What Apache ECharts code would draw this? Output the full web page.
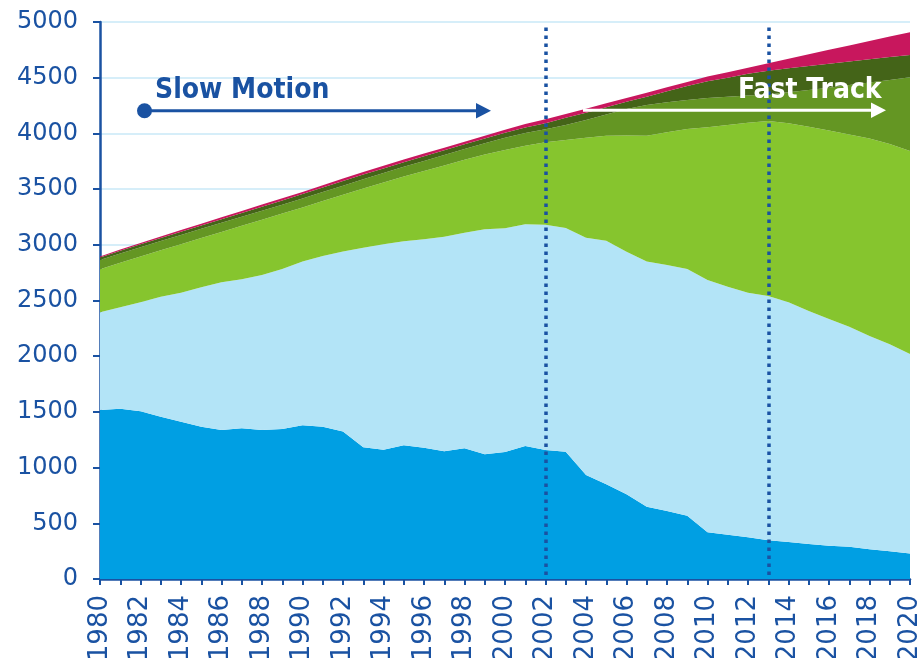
<!DOCTYPE html>
<html>
<head>
<meta charset="utf-8">
<script src="https://cdn.jsdelivr.net/npm/echarts@6/dist/echarts.min.js"></script>
<style>
html,body{margin:0;padding:0;background:#fff;}
#chart{width:920px;height:658px;}
</style>
</head>
<body>
<div id="chart"></div>
<script>
const years = [];
for (let y = 1980; y <= 2020; y++) years.push(String(y));

const seriesDarkBlue = [1517,1529,1505,1457,1412,1367,1338,1353,1338,1347,1380,1367,1323,1182,1161,1200,1179,1146,1173,1119,1140,1194,1158,1143,934,850,760,649,610,568,419,398,374,347,332,314,299,290,266,248,230];
const seriesLightBlue = [877,910,979,1077,1158,1251,1325,1337,1391,1436,1469,1533,1617,1792,1844,1831,1870,1927,1936,2020,2008,1990,2023,2008,2130,2187,2178,2200,2209,2215,2265,2226,2196,2193,2152,2092,2035,1975,1915,1859,1790];
const seriesLightGreen = [386,399,411,416,435,442,452,480,496,497,486,493,510,531,555,581,613,639,655,671,702,706,739,789,896,941,1044,1131,1191,1257,1371,1451,1525,1572,1606,1654,1691,1725,1774,1798,1822];
const seriesMidGreen = [84,84,84,84,84,83,82,81,80,80,80,80,81,83,85,88,91,94,96,102,110,113,117,135,160,192,238,275,270,260,263,255,245,238,280,330,385,445,503,575,662];
const seriesDarkGreen = [22,24,25,27,29,31,33,35,37,38,40,41,42,42,41,41,42,42,42,43,46,50,54,65,66,65,65,75,98,125,150,170,195,213,215,215,215,210,207,205,200];
const seriesCrimson = [10,11,12,13,14,16,17,18,19,20,20,21,22,23,24,24,24,24,24,25,27,32,36,35,36,35,33,36,36,37,42,50,55,66,85,105,125,145,165,184,204];

const yTicks = { min: 0, max: 5000, interval: 500 };
const markYears = ['2002', '2013'];

const blue = '#1a52a2';
const colors = ['#009fe3', '#b3e4f7', '#86c52e', '#649623', '#446418', '#c8175d'];
const allSeries = [seriesDarkBlue, seriesLightBlue, seriesLightGreen, seriesMidGreen, seriesDarkGreen, seriesCrimson];
const names = ['s1','s2','s3','s4','s5','s6'];

const chart = echarts.init(document.getElementById('chart'), null, { renderer: 'canvas' });

const series = allSeries.map((d, i) => ({
  name: names[i],
  type: 'line',
  stack: 'total',
  data: d,
  symbol: 'none',
  lineStyle: { width: 0 },
  areaStyle: { color: colors[i], opacity: 1 },
  itemStyle: { color: colors[i] },
  silent: true,
  z: 2
}));

series[0].markLine = {
  silent: true,
  symbol: ['none', 'none'],
  label: { show: false },
  lineStyle: { color: blue, width: 3.5, type: [3.5, 4.5] },
  data: markYears.map(y => [{ coord: [y, 4950] }, { coord: [y, 0] }]),
  z: 10
};

const font = 'DejaVu Sans';
const boldFont = 'DejaVu Sans Condensed';

chart.setOption({
  animation: false,
  backgroundColor: '#ffffff',
  grid: { left: 100, right: 10, top: 22, bottom: 79, containLabel: false, outerBoundsMode: 'none' },
  xAxis: {
    type: 'category',
    data: years,
    boundaryGap: false,
    axisLine: { lineStyle: { color: blue, width: 2.5 } },
    axisTick: { show: true, interval: 0, length: 6, lineStyle: { color: blue, width: 2 } },
    axisLabel: { interval: 1, rotate: 90, color: blue, fontSize: 26, fontFamily: font, margin: 16 },
    splitLine: { show: false }
  },
  yAxis: {
    type: 'value',
    min: yTicks.min, max: yTicks.max, interval: yTicks.interval,
    axisLine: { show: true, lineStyle: { color: blue, width: 2.5 } },
    axisTick: { show: true, length: 7, lineStyle: { color: blue, width: 2 } },
    axisLabel: { color: blue, fontSize: 24, fontFamily: font, margin: 22, formatter: v => String(v) },
    splitLine: { show: true, lineStyle: { color: '#c9e9f7', width: 1.5 } }
  },
  series: series,
  graphic: [
    { type: 'circle', shape: { cx: 144.5, cy: 110.7, r: 7.5 }, style: { fill: blue }, z: 100 },
    { type: 'line', shape: { x1: 144.5, y1: 110.7, x2: 478, y2: 110.7 }, style: { stroke: blue, lineWidth: 3 }, z: 100 },
    { type: 'polygon', shape: { points: [[476, 103], [491, 110.7], [476, 118.4]] }, style: { fill: blue }, z: 100 },
    { type: 'text', left: 155, top: 77, style: { text: 'Slow Motion', fill: blue, font: 'bold 28px "' + boldFont + '"' }, z: 100 },
    { type: 'line', shape: { x1: 583, y1: 110.3, x2: 873, y2: 110.3 }, style: { stroke: '#ffffff', lineWidth: 3 }, z: 100 },
    { type: 'polygon', shape: { points: [[871, 102.6], [886, 110.3], [871, 118]] }, style: { fill: '#ffffff' }, z: 100 },
    { type: 'text', left: 738, top: 77, style: { text: 'Fast Track', fill: '#ffffff', font: 'bold 28px "' + boldFont + '"' }, z: 100 }
  ]
});
</script>
</body>
</html>
